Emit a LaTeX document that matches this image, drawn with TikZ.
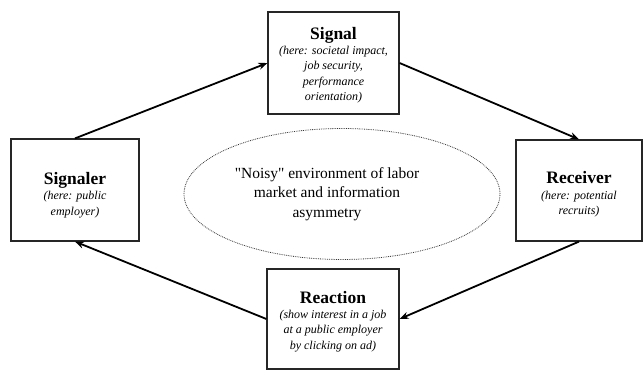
\documentclass[tikz,border=0pt]{standalone}
\usepackage{fontspec}
\setmainfont{Liberation Serif}
\usetikzlibrary{arrows.meta,shapes.geometric}
\tikzset{
  box/.style={draw=black!85, line width=1.2pt, rectangle, inner sep=0pt},
  boxtext/.style={align=center, inner sep=0pt, font=\fontsize{12}{15.3}\selectfont\itshape},
  conn/.style={line width=1.8pt, -{Stealth[length=9pt,width=7pt]}},
}
\newcommand{\ttltxt}[1]{{\fontsize{17.5}{21}\selectfont\upshape\bfseries #1}}
\newcommand{\sq}{\XeTeXglyph\XeTeXcharglyph"22\relax}
\begin{document}
\begin{tikzpicture}[x=1pt,y=-1pt]
\useasboundingbox (0,0) rectangle (643,371);
\node[box, minimum width=131pt, minimum height=102pt] (signal) at (333.5,63) {};
\node[box, minimum width=128pt, minimum height=102pt] (signaler) at (75,190) {};
\node[box, minimum width=126pt, minimum height=101pt] (receiver) at (579,190.5) {};
\node[box, minimum width=132pt, minimum height=100pt] (reaction) at (333,319) {};
\node[boxtext] (signalT) at ([yshift=-2pt]signal.center)
  {\ttltxt{Signal}\\(here: societal impact,\\ job security,\\ performance\\ orientation)};
\node[boxtext] (signalerT) at ([yshift=-5pt]signaler.center)
  {\ttltxt{Signaler}\\(here: public\\ employer)};
\node[boxtext] (receiverT) at ([yshift=-4pt]receiver.center)
  {\ttltxt{Receiver}\\(here: potential\\ recruits)};
\node[boxtext] (reactionT) at ([yshift=-2.5pt]reaction.center)
  {\ttltxt{Reaction}\\(show interest in a job\\ at a public employer\\ by clicking on ad)};
\node[draw=black!80, ellipse, densely dotted, line width=0.8pt, minimum width=316pt, minimum height=131pt] (env) at (342,194) {};
\node[align=center, inner sep=0pt, font=\fontsize{15.5}{19.5}\selectfont] (envT) at ([xshift=-15pt,yshift=0pt]env.center)
  {\sq Noisy\sq{} environment of labor\\ market and information\\ asymmetry};
\draw[conn] (signaler.north) -- (signal.west);
\draw[conn] (signal.east) -- (receiver.north);
\draw[conn] (receiver.south) -- (reaction.east);
\draw[conn] (reaction.west) -- (signaler.south);
\end{tikzpicture}
\end{document}
